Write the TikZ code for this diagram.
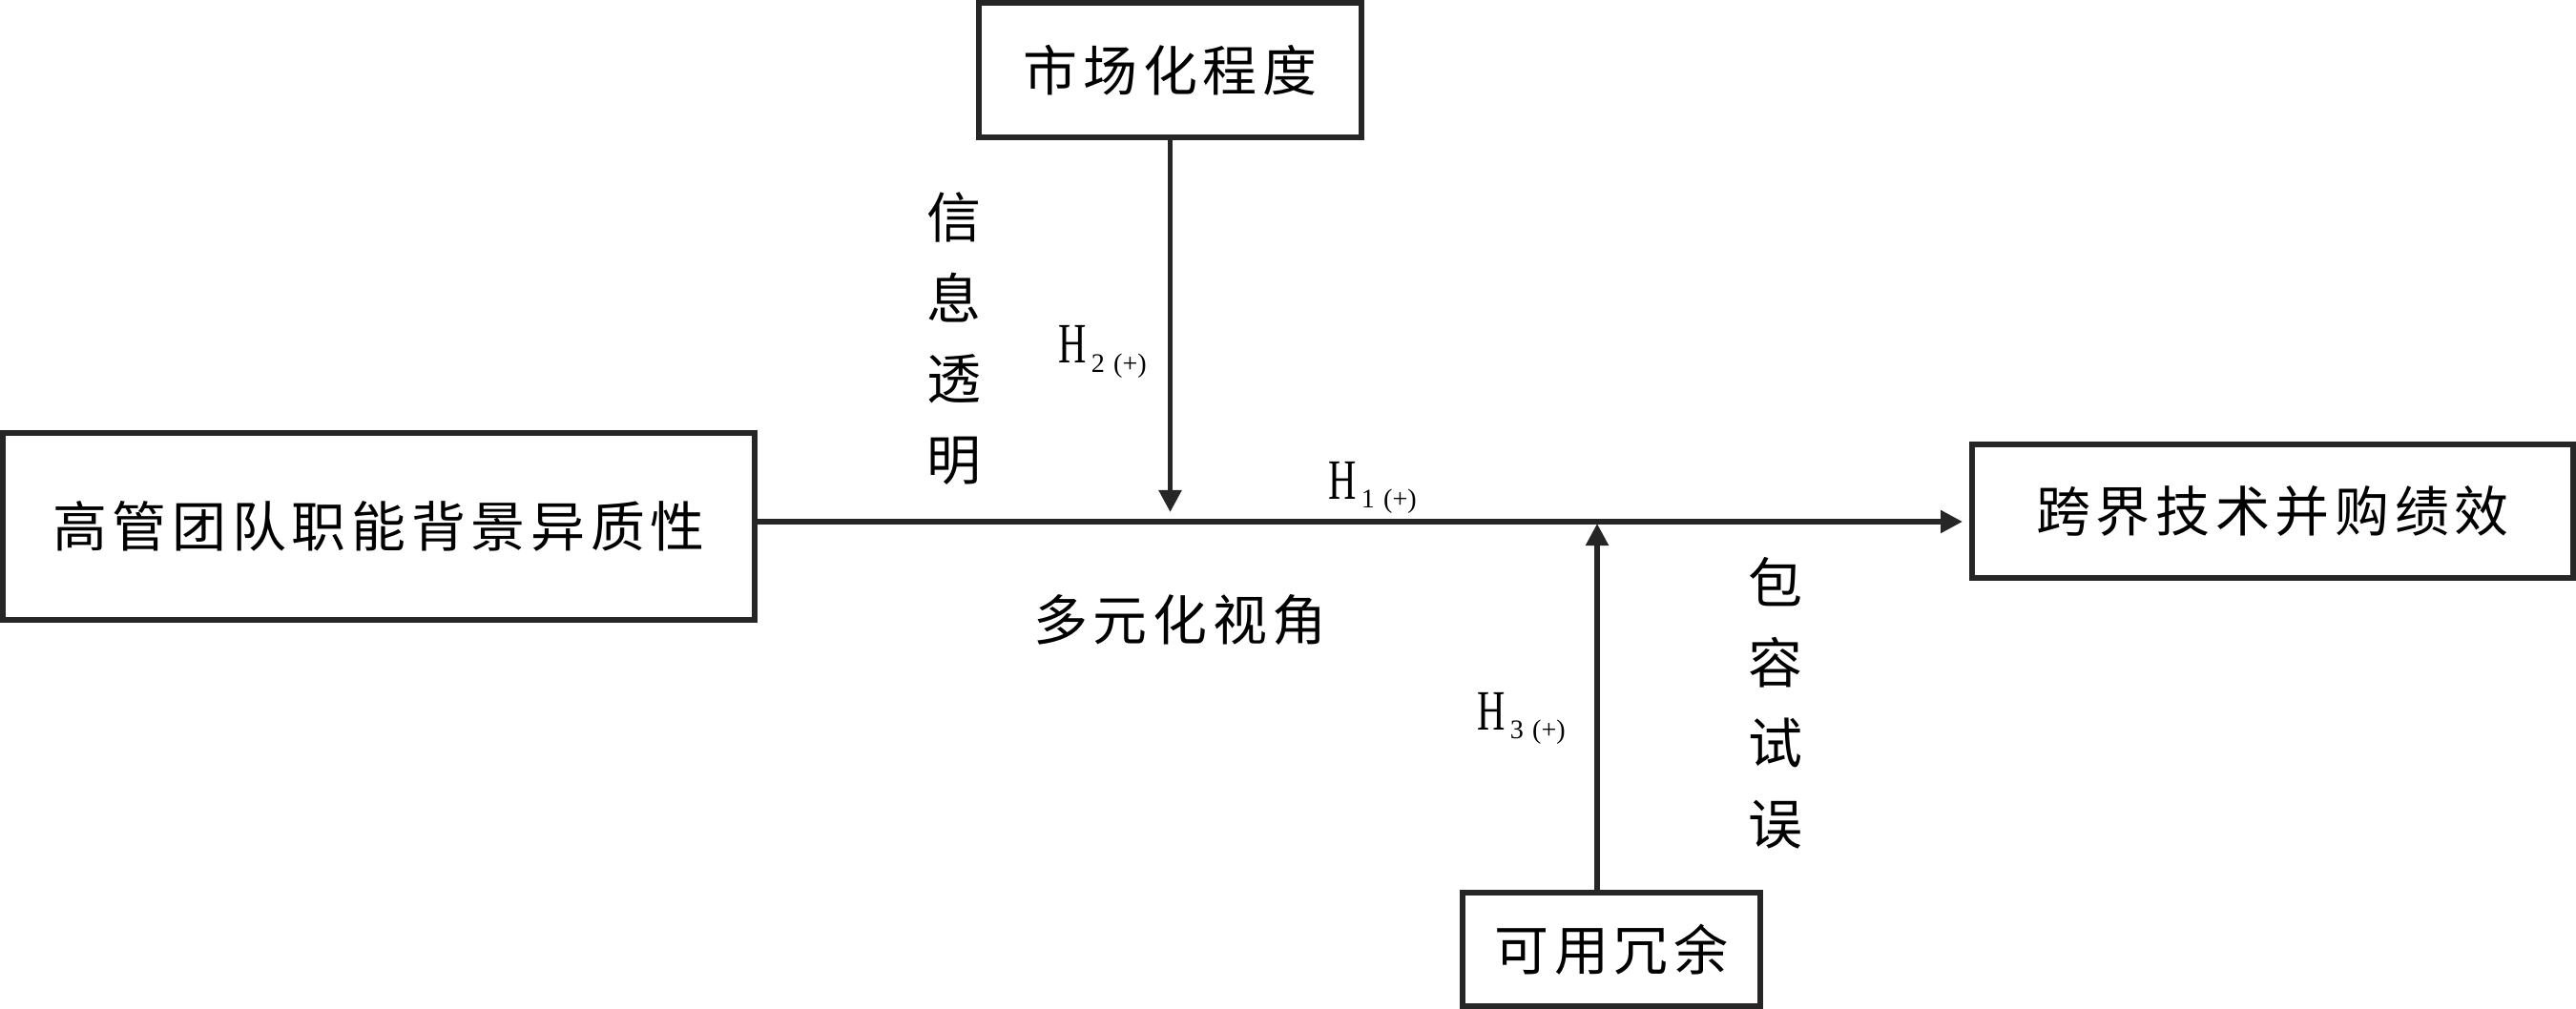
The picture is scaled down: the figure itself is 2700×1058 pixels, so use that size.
\documentclass[tikz,border=0pt]{standalone}
\usepackage{fontspec}
\setmainfont{Liberation Serif}
\newfontfamily\cjk[LetterSpace=10]{Noto Sans CJK SC}
\newfontfamily\hfont[FakeStretch=0.68]{Liberation Serif}
\usetikzlibrary{arrows.meta}
\newcommand{\hlab}[1]{{\hfont\fontsize{17}{20}\selectfont H}\raisebox{-0.09cm}{\fontsize{8}{9}\selectfont\,#1\,\,(+)}}

\begin{document}
\begin{tikzpicture}[x=0.01cm, y=0.01cm,
  varbox/.style={draw=black!85, line width=1.8pt, inner sep=0pt, font=\cjk\fontsize{16.2}{20}\selectfont},
  link/.style={draw=black!85, line width=1.5pt, -{Triangle[length=0.23cm,width=0.23cm]}},
  vlab/.style={inner sep=0pt, align=center, font=\cjk\fontsize{16.2}{24}\selectfont},
  hyp/.style={inner sep=0pt, anchor=base west}]
\useasboundingbox (0,0) rectangle (2700,-1058);

% variables
\node[varbox, minimum width=7.88cm, minimum height=1.96cm] (tmt) at (397,-552) {高管团队职能背景异质性};
\node[varbox, minimum width=4.01cm, minimum height=1.41cm] (mkt) at (1226.5,-73.5) {市场化程度};
\node[varbox, minimum width=6.30cm, minimum height=1.40cm] (perf) at (2382,-536) {跨界技术并购绩效};
\node[varbox, minimum width=3.12cm, minimum height=1.19cm] (slack) at (1689,-995.5) {可用冗余};

% arrows
\coordinate (hit) at (2057,-547);
\coordinate (m2) at (1226.5,-537);
\coordinate (m3) at (1674,-549);
\draw[link] (tmt.east |- hit) -- (hit);
\draw[link] (mkt.south) -- (m2);
\draw[link] (m3 |- slack.north) -- (m3);

% labels
\node[vlab] (info) at (1000,-355) {信\\息\\透\\明};
\node[vlab] (incl) at (1861,-737) {包\\容\\试\\误};
\node[inner sep=0pt, font=\cjk\fontsize{16.2}{20}\selectfont] (multi) at (1237,-650) {多元化视角};
\node[hyp] (h1) at (1392,-523) {\hlab{1}};
\node[hyp] (h2) at (1109,-381) {\hlab{2}};
\node[hyp] (h3) at (1548,-765) {\hlab{3}};
\end{tikzpicture}
\end{document}
